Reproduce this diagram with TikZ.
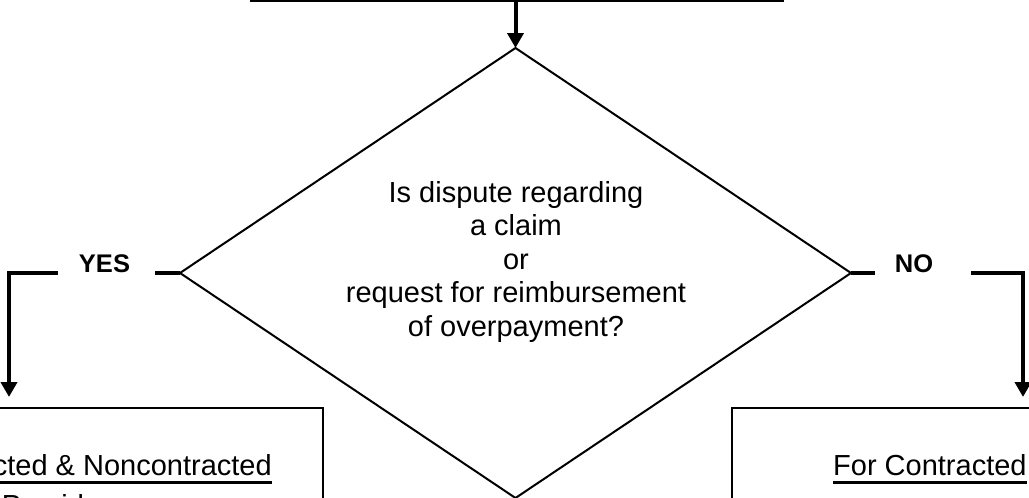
\documentclass[tikz,border=0pt]{standalone}
\usepackage{fontspec}
\setmainfont{Liberation Sans}
\usetikzlibrary{arrows.meta,positioning,shapes.geometric,calc}
\newcommand{\boxul}[1]{\setbox0\hbox{#1}\rlap{\rule[-8.5pt]{\wd0}{3pt}}\box0}

\begin{document}
\begin{tikzpicture}[
    x=1pt, y=-1pt,
    box/.style={rectangle, draw=black, line width=2.5pt, outer sep=0pt, inner sep=0pt},
    decision/.style={diamond, draw=black, line width=2pt, outer sep=0pt, inner sep=0pt,
                     aspect=1.49, minimum width=671pt, minimum height=450pt},
    body/.style={font=\fontsize{29}{33.5}\selectfont, align=center, inner sep=0pt},
    boxtext/.style={font=\fontsize{29}{40}\selectfont, align=center, inner sep=0pt},
    answer/.style={font=\fontsize{25.5}{30}\selectfont\bfseries, inner sep=0pt},
    arrow/.style={-{Triangle[length=15pt, width=16pt]}, line width=4pt},
    branch/.style={line width=4pt}
]
  \useasboundingbox (0,0) rectangle (1029,498);
  \clip (0,0) rectangle (1029,498);

  % Previous step
  \node[box, line width=2pt, minimum width=532pt, minimum height=80pt, anchor=south] (prev) at (517,1) {};

  % Decision
  \node[decision] (query) at (515.5,273) {};
  \node[body] (qtext) at (516,261.5) {Is dispute regarding\\a claim\\or\\request for reimbursement\\of overpayment?};

  % Answers
  \node[answer, anchor=base] (yes) at (104.5,272) {YES};
  \node[answer, anchor=base] (no) at (914,272) {NO};
  \coordinate (yesdrop) at (9,274);
  \coordinate (nodrop) at (1023,274);

  % Outcome boxes
  \node[box, minimum width=700pt, minimum height=300pt, anchor=north east] (leftbox) at (323,408) {};
  \node[box, minimum width=700pt, minimum height=300pt, anchor=north west] (rightbox) at (732,408) {};
  \node[boxtext, anchor=north east] (lefttext) at (272,454) {\boxul{For Contracted \& Noncontracted}\\Providers};
  \node[boxtext, anchor=north west] (righttext) at (833,454) {\boxul{For Contracted}};

  % Arrows
  \draw[arrow] (prev.south -| query.north) -- (query.north);
  \draw[branch] (query.west) -- ([xshift=25pt]yes.east |- query.west);
  \draw[arrow] ([xshift=-21pt]yes.west |- query.west) -| ([yshift=11pt]yesdrop |- leftbox.north);
  \draw[branch] (query.east) -- ([xshift=-20pt]no.west |- query.east);
  \draw[arrow] ([xshift=38pt]no.east |- query.east) -| ([yshift=11pt]nodrop |- rightbox.north);

\end{tikzpicture}
\end{document}
